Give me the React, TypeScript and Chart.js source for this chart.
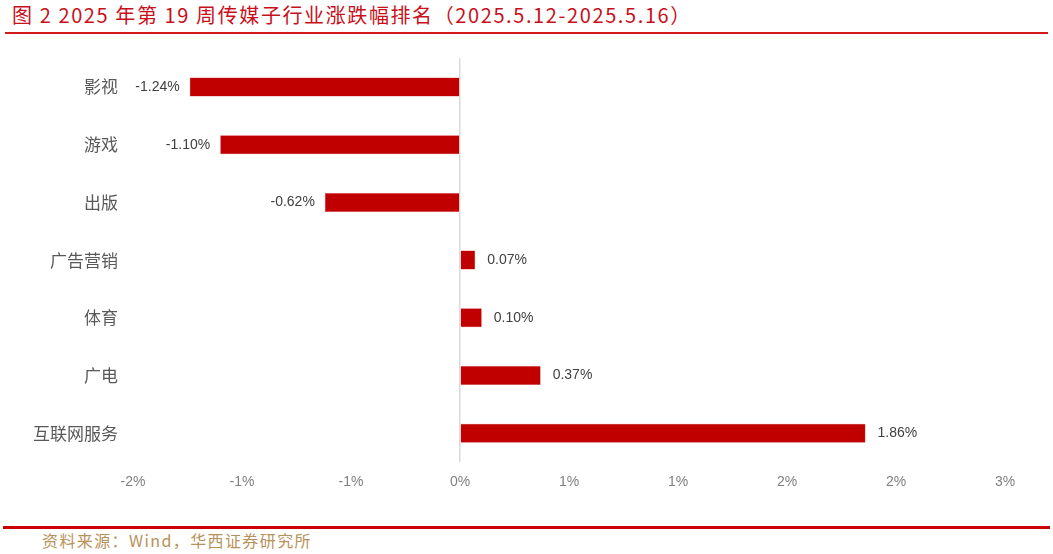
import React, { useEffect, useRef } from "react";
import { Chart, registerables } from "chart.js";

Chart.register(...registerables);

const categories = ["影视", "游戏", "出版", "广告营销", "体育", "广电", "互联网服务"];
const changes = [-1.24, -1.1, -0.62, 0.07, 0.1, 0.37, 1.86];
const tickValues = [-1.5, -1, -0.5, 0, 0.5, 1, 1.5, 2, 2.5];
const tickLabels = ["-2%", "-1%", "-1%", "0%", "1%", "1%", "2%", "2%", "3%"];
const titleText = "图 2 2025 年第 19 周传媒子行业涨跌幅排名（2025.5.12-2025.5.16）";
const sourceText = "资料来源：Wind，华西证券研究所";

const RED = "#C00000";
const NARROW = "'Liberation Sans Narrow', 'Liberation Sans', Arial, sans-serif";
const CJK = "'Noto Sans CJK SC', sans-serif";

const labelPlugin = {
  id: "barLabels",
  afterDatasetsDraw(chart: any) {
    const ctx = chart.ctx;
    const meta = chart.getDatasetMeta(0);
    ctx.save();
    ctx.font = "14px " + NARROW;
    ctx.fillStyle = "#404040";
    ctx.textBaseline = "middle";
    meta.data.forEach((el: any, i: number) => {
      const v = changes[i];
      const txt = v.toFixed(2) + "%";
      if (v >= 0) {
        ctx.textAlign = "left";
        ctx.fillText(txt, el.x + 12, el.y);
      } else {
        ctx.textAlign = "right";
        ctx.fillText(txt, el.x - 10, el.y);
      }
    });
    ctx.restore();
  },
};

export default function App() {
  const ref = useRef<HTMLCanvasElement>(null);
  useEffect(() => {
    document.body.style.margin = "0";
    const chart = new Chart(ref.current!, {
      type: "bar",
      data: {
        labels: categories,
        datasets: [
          {
            data: changes,
            backgroundColor: RED,
            borderColor: "#d84848",
            borderWidth: 0.5,
            categoryPercentage: 1,
            barPercentage: 0.33,
          },
        ],
      },
      options: {
        indexAxis: "y",
        animation: false,
        responsive: false,
        maintainAspectRatio: false,
        layout: { padding: { left: 0, right: 48, top: 8, bottom: 0 } },
        plugins: { legend: { display: false }, tooltip: { enabled: false } },
        scales: {
          x: {
            type: "linear",
            min: tickValues[0],
            max: tickValues[tickValues.length - 1],
            afterBuildTicks: (axis: any) => {
              axis.ticks = tickValues.map((v) => ({ value: v }));
            },
            afterFit: (axis: any) => {
              axis.height = 38;
            },
            ticks: {
              color: "#7f7f7f",
              font: { family: NARROW, size: 14 },
              padding: 12,
              maxRotation: 0,
              autoSkip: false,
              callback: (v: any) => {
                const i = tickValues.indexOf(Number(v));
                return i >= 0 ? tickLabels[i] : "";
              },
            },
            grid: {
              drawTicks: false,
              lineWidth: 1.5,
              color: (c: any) => (c.tick && c.tick.value === 0 ? "#d9d9d9" : "rgba(0,0,0,0)"),
            },
            border: { display: false },
          },
          y: {
            afterFit: (axis: any) => {
              axis.width = 133;
            },
            ticks: {
              color: "#595959",
              font: { family: CJK, size: 17 },
              padding: 15,
            },
            grid: { display: false, drawTicks: false },
            border: { display: false },
          },
        },
      },
      plugins: [labelPlugin],
    });
    return () => chart.destroy();
  }, []);

  return (
    <div style={{ position: "absolute", left: 0, top: 0, width: 1053, height: 554, background: "#fff", overflow: "hidden" }}>
      <div
        style={{
          position: "absolute",
          left: 12,
          top: 1,
          fontFamily: CJK,
          fontSize: 20,
          letterSpacing: 1.6,
          color: "#C8101A",
          whiteSpace: "nowrap",
          lineHeight: "28px",
        }}
      >
        {titleText}
      </div>
      <div style={{ position: "absolute", left: 5, top: 32, width: 1043, height: 2, background: "#D21A1A" }} />
      <canvas ref={ref} width={1053} height={467} style={{ position: "absolute", left: 0, top: 33, width: 1053, height: 467 }} />
      <div style={{ position: "absolute", left: 3, top: 526, width: 1047, height: 3, background: "#CC0000" }} />
      <div
        style={{
          position: "absolute",
          left: 42,
          top: 529,
          fontFamily: CJK,
          fontSize: 16,
          letterSpacing: 1.4,
          color: "#B8915A",
          whiteSpace: "nowrap",
          lineHeight: "22px",
        }}
      >
        {sourceText}
      </div>
    </div>
  );
}
